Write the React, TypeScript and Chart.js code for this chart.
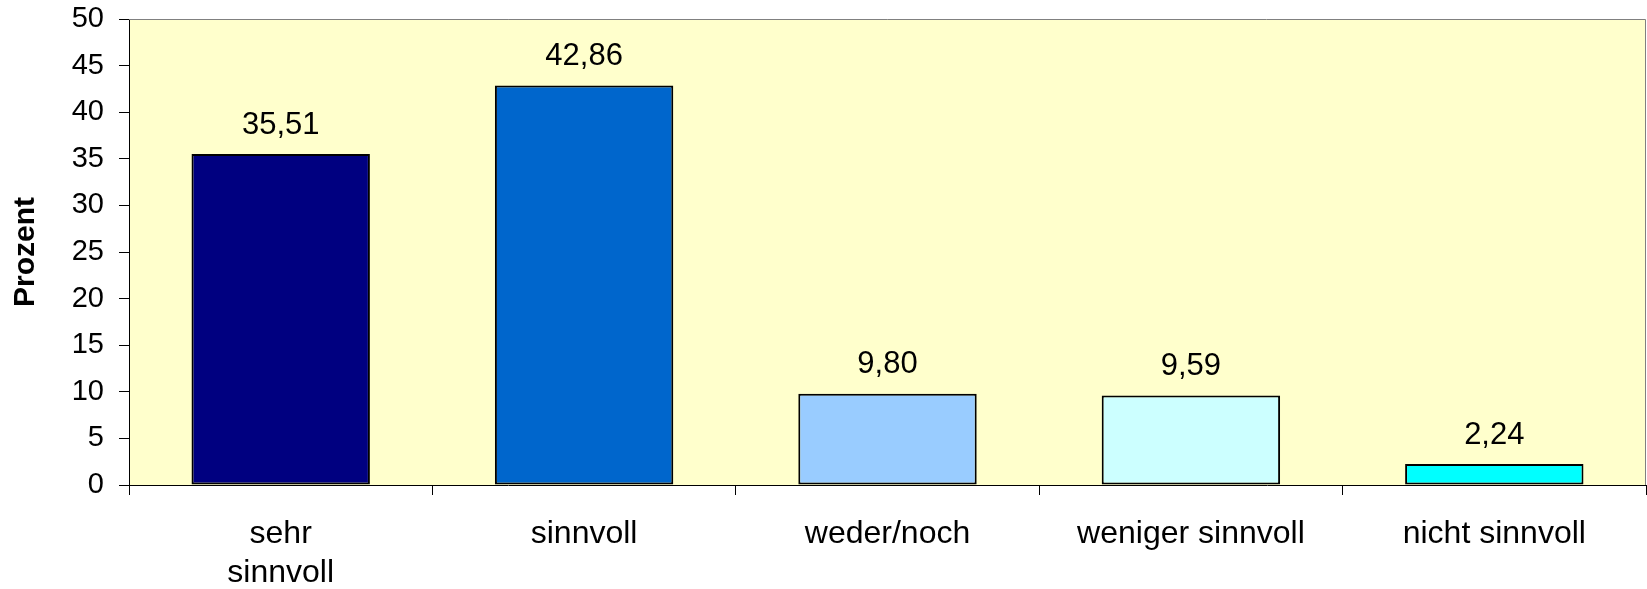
import React, { useEffect, useRef } from "react";
import { Chart, registerables } from "chart.js";

Chart.register(...registerables);

const categories: (string | string[])[] = [["sehr", "sinnvoll"], "sinnvoll", "weder/noch", "weniger sinnvoll", "nicht sinnvoll"];
const values: number[] = [35.51, 42.86, 9.8, 9.59, 2.24];
const barColors: string[] = ["#000080", "#0066CC", "#99CCFF", "#CCFFFF", "#00FFFF"];
const yTicks: number[] = [0, 5, 10, 15, 20, 25, 30, 35, 40, 45, 50];
const yTitle = "Prozent";

const FONT = "'Liberation Sans', Arial, sans-serif";

const plotBg = {
  id: "plotBg",
  beforeDraw(chart: any) {
    const { ctx, chartArea: a } = chart;
    ctx.save();
    ctx.fillStyle = "#FFFFCC";
    ctx.fillRect(a.left, a.top, a.right - a.left, a.bottom - a.top);
    ctx.restore();
  },
  afterDraw(chart: any) {
    const { ctx, chartArea: a } = chart;
    ctx.save();
    ctx.strokeStyle = "#808080";
    ctx.lineWidth = 1;
    ctx.beginPath();
    ctx.moveTo(a.left, a.top + 0.5);
    ctx.lineTo(a.right - 0.5, a.top + 0.5);
    ctx.lineTo(a.right - 0.5, a.bottom);
    ctx.stroke();
    ctx.restore();
  },
};

const valueLabels = {
  id: "valueLabels",
  afterDatasetsDraw(chart: any) {
    const { ctx } = chart;
    const meta = chart.getDatasetMeta(0);
    ctx.save();
    ctx.font = `31px ${FONT}`;
    ctx.fillStyle = "#000";
    ctx.textAlign = "center";
    ctx.textBaseline = "alphabetic";
    meta.data.forEach((bar: any, i: number) => {
      const txt = values[i].toFixed(2).replace(".", ",");
      ctx.fillText(txt, bar.x, bar.y - 20.5);
    });
    ctx.restore();
  },
};

export default function App() {
  const ref = useRef<HTMLCanvasElement>(null);
  useEffect(() => {
    if (!ref.current) return;
    const chart = new Chart(ref.current, {
      type: "bar",
      data: {
        labels: categories as any,
        datasets: [
          {
            data: values,
            backgroundColor: barColors,
            borderColor: "#000",
            borderWidth: 2,
            borderSkipped: false,
            barPercentage: 0.588,
            categoryPercentage: 1,
          },
        ],
      },
      options: {
        animation: false,
        responsive: false,
        devicePixelRatio: 1,
        layout: { padding: { top: 19, right: 1, bottom: 0, left: 0 } },
        plugins: { legend: { display: false }, tooltip: { enabled: false } },
        scales: {
          x: {
            offset: true,
            grid: { offset: true, drawOnChartArea: false, color: "#000", tickLength: 10 },
            border: { color: "#000", width: 1 },
            ticks: {
              color: "#000",
              padding: 20,
              maxRotation: 0,
              autoSkip: false,
              font: { family: FONT, size: 32, lineHeight: 1.22 },
            },
            afterFit(scale: any) {
              scale.height = 104;
              scale.paddingLeft = 0;
              scale.paddingRight = 0;
            },
          },
          y: {
            min: 0,
            max: 50,
            afterBuildTicks(scale: any) {
              scale.ticks = yTicks.map((v) => ({ value: v }));
            },
            grid: { drawOnChartArea: false, color: "#000", tickLength: 10 },
            border: { color: "#000", width: 1 },
            ticks: {
              color: "#000",
              padding: 15,
              font: { family: FONT, size: 29 },
            },
            title: {
              display: true,
              text: yTitle,
              color: "#000",
              padding: { top: 8, bottom: 0 },
              font: { family: FONT, size: 30, weight: "bold" },
            },
            afterFit(scale: any) {
              scale.width = 129;
              scale.paddingTop = 0;
              scale.paddingBottom = 0;
            },
          },
        },
      },
      plugins: [plotBg, valueLabels],
    });
    return () => chart.destroy();
  }, []);
  return (
    <div style={{ position: "absolute", left: 0, top: 0, width: 1647, height: 589, background: "#fff" }}>
      <canvas ref={ref} width={1647} height={589} style={{ display: "block" }} />
    </div>
  );
}
